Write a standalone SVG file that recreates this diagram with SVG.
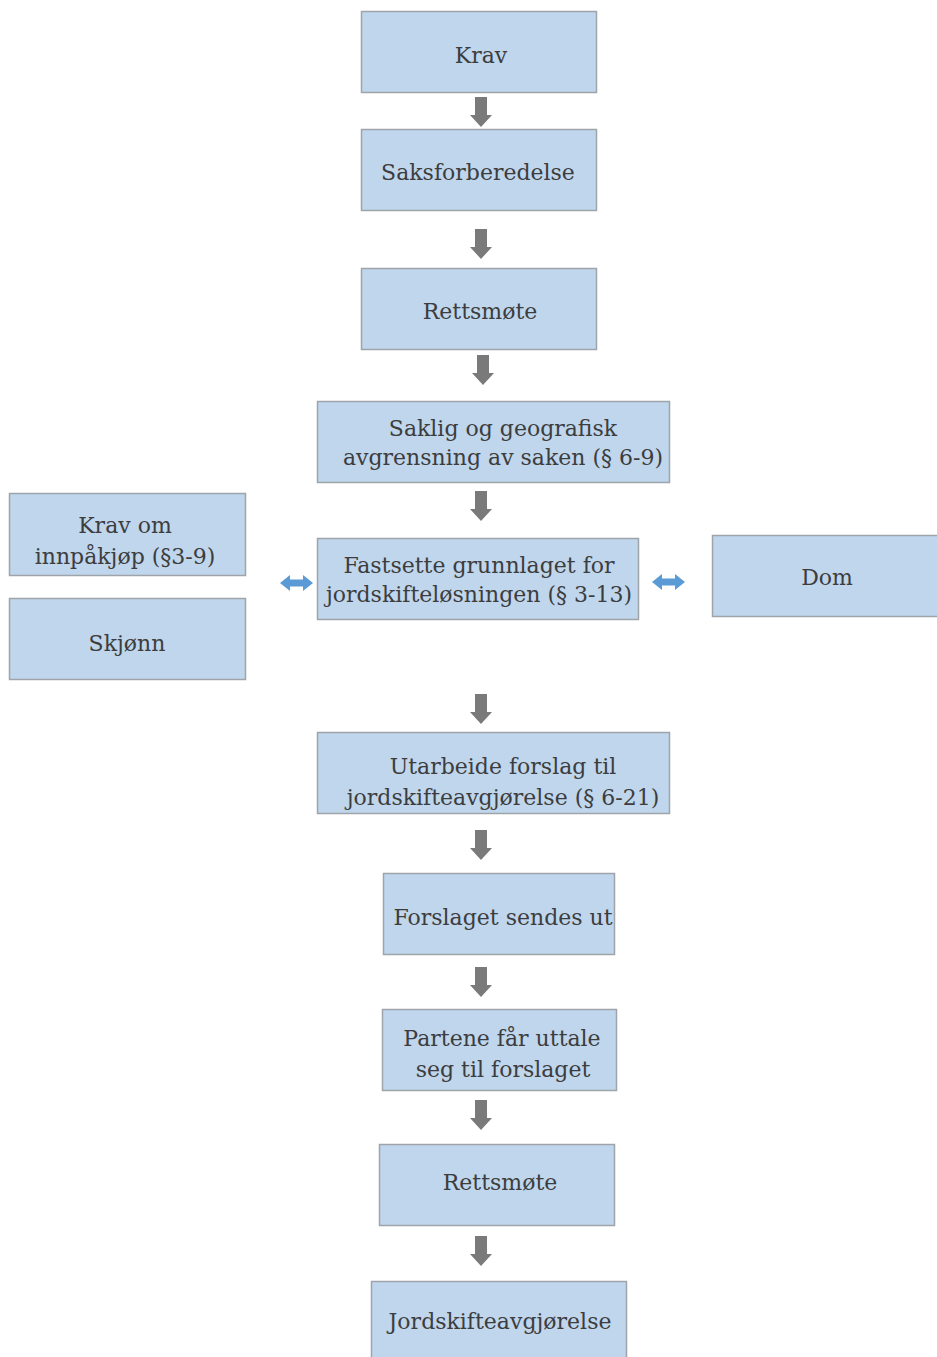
<svg xmlns="http://www.w3.org/2000/svg" width="937" height="1357" viewBox="0 0 937 1357">
<style>
.box{fill:#bfd6ed;stroke:#9ea4aa;stroke-width:1.5}
.t{font-family:"DejaVu Serif","Liberation Serif",serif;font-size:22px;fill:#3d3d3d;text-anchor:middle}
.da{fill:#7a7a7a}
.ba{fill:#5b9bd5}
</style>
<defs>
<path id="down" d="M-6,0 h12 v18 h5 l-11,12 l-11,-12 h5 z"/>
<path id="both" d="M0,0 l10,-8 v4.5 h13 v-4.5 l10,8 l-10,8 v-4.5 h-13 v4.5 z"/>
</defs>
<rect width="937" height="1357" fill="#ffffff"/>
<g id="connectors">
<use href="#down" class="da" x="481" y="97"/>
<use href="#down" class="da" x="481" y="229"/>
<use href="#down" class="da" x="483" y="355"/>
<use href="#down" class="da" x="481" y="491"/>
<use href="#down" class="da" x="481" y="694"/>
<use href="#down" class="da" x="481" y="830"/>
<use href="#down" class="da" x="481" y="967"/>
<use href="#down" class="da" x="481" y="1100"/>
<use href="#down" class="da" x="481" y="1236"/>
<use href="#both" class="ba" x="280" y="583"/>
<use href="#both" class="ba" x="652" y="582"/>
</g>
<g id="n1"><rect class="box" x="361.5" y="11.5" width="235" height="81"/><text class="t" x="481" y="63">Krav</text></g>
<g id="n2"><rect class="box" x="361.5" y="129.5" width="235" height="81"/><text class="t" x="478" y="180">Saksforberedelse</text></g>
<g id="n3"><rect class="box" x="361.5" y="268.5" width="235" height="81"/><text class="t" x="480" y="319">Rettsmøte</text></g>
<g id="n4"><rect class="box" x="317.5" y="401.5" width="352" height="81"/><text class="t" x="503" y="436">Saklig og geografisk</text><text class="t" x="503" y="465">avgrensning av saken (§ 6-9)</text></g>
<g id="n5"><rect class="box" x="9.5" y="493.5" width="236" height="82"/><text class="t" x="125" y="533">Krav om</text><text class="t" x="125" y="564">innpåkjøp (§3-9)</text></g>
<g id="n6"><rect class="box" x="9.5" y="598.5" width="236" height="81"/><text class="t" x="127" y="651">Skjønn</text></g>
<g id="n7"><rect class="box" x="317.5" y="538.5" width="321" height="81"/><text class="t" x="479" y="573">Fastsette grunnlaget for</text><text class="t" x="479" y="602">jordskifteløsningen (§ 3-13)</text></g>
<g id="n8"><rect class="box" x="712.5" y="535.5" width="230" height="81"/><text class="t" x="827" y="585">Dom</text></g>
<g id="n9"><rect class="box" x="317.5" y="732.5" width="352" height="81"/><text class="t" x="503" y="774">Utarbeide forslag til</text><text class="t" x="503" y="805">jordskifteavgjørelse (§ 6-21)</text></g>
<g id="n10"><rect class="box" x="383.5" y="873.5" width="231" height="81"/><text class="t" x="503" y="925">Forslaget sendes ut</text></g>
<g id="n11"><rect class="box" x="382.5" y="1009.5" width="234" height="81"/><text class="t" x="502" y="1046">Partene får uttale</text><text class="t" x="503" y="1077">seg til forslaget</text></g>
<g id="n12"><rect class="box" x="379.5" y="1144.5" width="235" height="81"/><text class="t" x="500" y="1190">Rettsmøte</text></g>
<g id="n13"><rect class="box" x="371.5" y="1281.5" width="255" height="90"/><text class="t" x="500" y="1329">Jordskifteavgjørelse</text></g>
</svg>
